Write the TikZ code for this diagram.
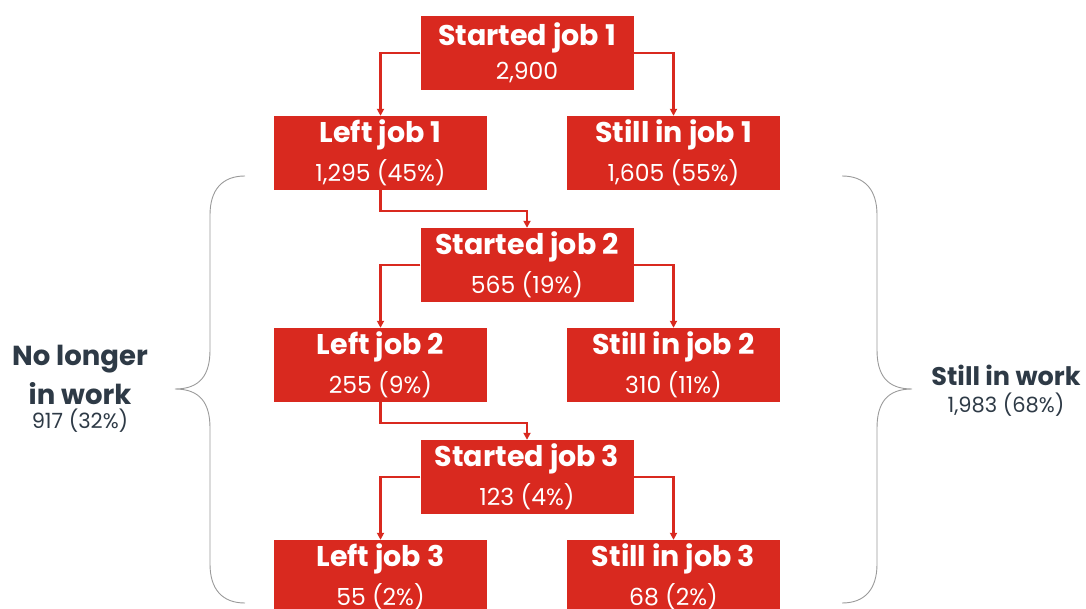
\documentclass[tikz,border=0pt]{standalone}
\usepackage{fontspec}
\setmainfont{Poppins}
\usetikzlibrary{arrows.meta}
\definecolor{boxred}{HTML}{D9291F}
\definecolor{slate}{HTML}{2E3A46}
\definecolor{bracegray}{HTML}{9A9A9A}
\newcommand{\boxtxt}[2]{\fontsize{28.5}{34}\selectfont\bfseries #1\\[8pt]\fontsize{23.5}{28}\selectfont\mdseries #2}
\newcommand{\bigb}{\fontsize{27.5}{33}\selectfont\bfseries}
\newcommand{\smn}{\fontsize{21}{25}\selectfont\mdseries}
\begin{document}
\begin{tikzpicture}[x=1pt,y=-1pt,
  jobbox/.style={rectangle, fill=boxred, text=white, minimum width=213pt, minimum height=74pt, inner sep=0pt, align=center},
  flow/.style={draw=boxred, line width=2.2pt, -{Triangle[length=7pt,width=7pt]}},
  brace/.style={draw=bracegray, line width=0.9pt},
  side/.style={text=slate, align=center}]
\useasboundingbox (0,0) rectangle (1086,609);
\node[jobbox] (s1) at (527,53) {\boxtxt{Started job 1}{2,900}};
\node[jobbox] (l1) at (380.5,153) {\boxtxt{Left job 1}{1,295 (45\%)}};
\node[jobbox] (k1) at (673.5,153) {\boxtxt{Still in job 1}{1,605 (55\%)}};
\node[jobbox] (s2) at (527,265) {\boxtxt{Started job 2}{565 (19\%)}};
\node[jobbox] (l2) at (380.5,365) {\boxtxt{Left job 2}{255 (9\%)}};
\node[jobbox] (k2) at (673.5,365) {\boxtxt{Still in job 2}{310 (11\%)}};
\node[jobbox] (s3) at (527,477) {\boxtxt{Started job 3}{123 (4\%)}};
\node[jobbox] (l3) at (380.5,577) {\boxtxt{Left job 3}{55 (2\%)}};
\node[jobbox] (k3) at (673.5,577) {\boxtxt{Still in job 3}{68 (2\%)}};
\draw[flow] (s1.west) -| (l1.north);
\draw[flow] (s1.east) -| (k1.north);
\draw[flow] (l1.south) -- ++(0,21) -| (s2.north);
\draw[flow] (s2.west) -| (l2.north);
\draw[flow] (s2.east) -| (k2.north);
\draw[flow] (l2.south) -- ++(0,21) -| (s3.north);
\draw[flow] (s3.west) -| (l3.north);
\draw[flow] (s3.east) -| (k3.north);
% braces
\coordinate (lbt) at (245,176);
\coordinate (lbb) at (245,603);
\coordinate (lbtip) at (175,389);
\draw[brace] (lbt) .. controls (222,176) and (210,190) .. (210,215) -- (210,350)
  .. controls (210,375) and (200,389) .. (lbtip)
  .. controls (200,389) and (210,403) .. (210,428) -- (210,564)
  .. controls (210,589) and (222,603) .. (lbb);
\coordinate (rbt) at (842,176);
\coordinate (rbb) at (842,603);
\coordinate (rbtip) at (912,389);
\draw[brace] (rbt) .. controls (865,176) and (877,190) .. (877,215) -- (877,350)
  .. controls (877,375) and (887,389) .. (rbtip)
  .. controls (887,389) and (877,403) .. (877,428) -- (877,564)
  .. controls (877,589) and (865,603) .. (rbb);
\node[side] (nl) at (80,389) {\bigb No longer\\[8pt]\bigb in work\\[4pt]\smn 917 (32\%)};
\node[side] (sw) at (1006,391) {\fontsize{25.5}{31}\selectfont\bfseries Still in work\\[6pt]\smn 1,983 (68\%)};
\end{tikzpicture}
\end{document}
